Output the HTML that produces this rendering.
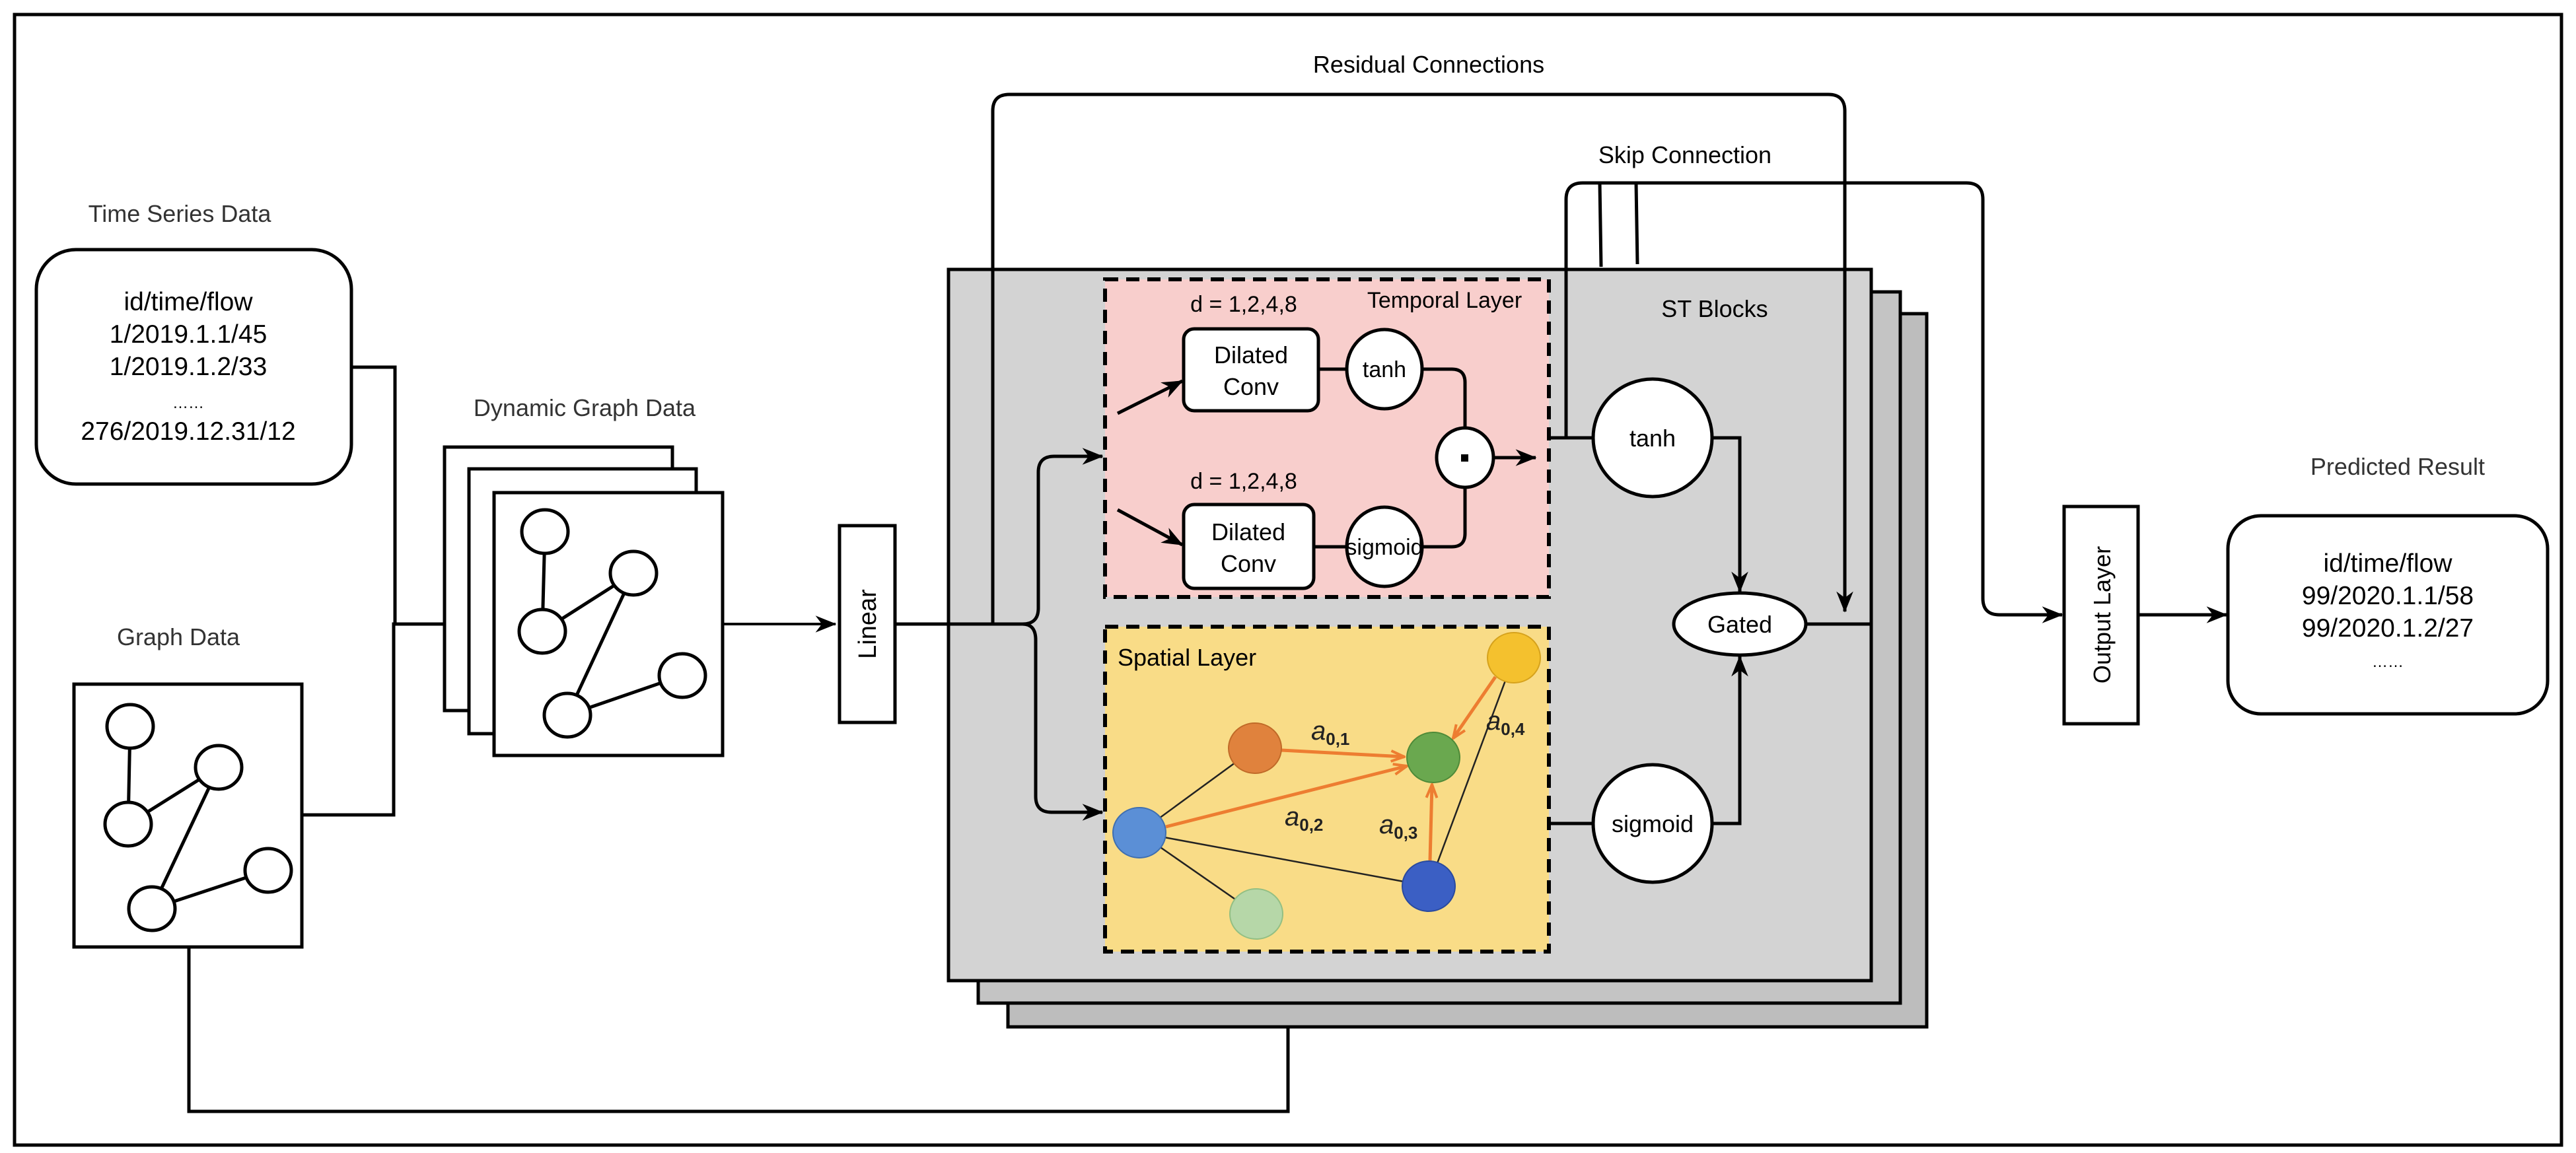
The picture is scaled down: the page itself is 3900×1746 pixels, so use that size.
<!DOCTYPE html>
<html><head><meta charset="utf-8"><style>
html,body{margin:0;padding:0;background:#fff;}
svg{display:block;}
text{font-family:"Liberation Sans",sans-serif;}
</style></head><body>
<svg width="3900" height="1746" viewBox="0 0 3900 1746" xmlns="http://www.w3.org/2000/svg">
<defs>
<marker id="ar" viewBox="0 0 20 16" refX="19" refY="8" markerWidth="32" markerHeight="26" orient="auto" markerUnits="userSpaceOnUse">
<path d="M0,0 L20,8 L0,16 L6,8 Z" fill="#000"/>
</marker>
<marker id="ao" markerWidth="24" markerHeight="20" refX="22" refY="10" orient="auto" markerUnits="userSpaceOnUse">
<path d="M2,2 L22,10 L2,18" fill="none" stroke="#ed7d31" stroke-width="4"/>
</marker>
</defs>
<rect x="22" y="22" width="3856" height="1712" fill="none" stroke="#000" stroke-width="5"/>

<!-- Time series -->
<text x="272" y="336" font-size="36" fill="#333" text-anchor="middle">Time Series Data</text>
<rect x="55" y="378" width="477" height="355" rx="60" fill="#fff" stroke="#000" stroke-width="5"/>
<g font-size="39" text-anchor="middle" fill="#000">
<text x="285" y="470">id/time/flow</text>
<text x="285" y="519">1/2019.1.1/45</text>
<text x="285" y="568">1/2019.1.2/33</text>
<text x="285" y="618" font-size="24">……</text>
<text x="285" y="666">276/2019.12.31/12</text>
</g>

<!-- Graph data -->
<text x="270" y="977" font-size="36" fill="#333" text-anchor="middle">Graph Data</text>
<rect x="112" y="1036" width="345" height="398" fill="#fff" stroke="#000" stroke-width="5"/>
<g stroke="#000" stroke-width="5" fill="#fff">
<line x1="197" y1="1100" x2="194" y2="1248"/><line x1="194" y1="1248" x2="331" y2="1162"/>
<line x1="331" y1="1162" x2="230" y2="1376"/><line x1="230" y1="1376" x2="406" y2="1318"/>
<ellipse cx="197" cy="1100" rx="35" ry="33"/><ellipse cx="331" cy="1162" rx="35" ry="33"/>
<ellipse cx="194" cy="1248" rx="35" ry="33"/><ellipse cx="230" cy="1376" rx="35" ry="33"/>
<ellipse cx="406" cy="1318" rx="35" ry="33"/>
</g>

<!-- connectors left -->
<g fill="none" stroke="#000" stroke-width="5">
<polyline points="532,556 598,556 598,945"/>
<polyline points="457,1234 596,1234 596,945 742,945" marker-end="url(#ar)"/>
<polyline points="286,1434 286,1683 1950,1683 1950,1460" marker-end="url(#ar)"/>
</g>

<!-- Dynamic graph -->
<text x="885" y="630" font-size="36" fill="#333" text-anchor="middle">Dynamic Graph Data</text>
<g stroke="#000" stroke-width="5" fill="#fff">
<rect x="673" y="677" width="345" height="399"/>
<rect x="710" y="710" width="344" height="401"/>
<rect x="748" y="746" width="346" height="398"/>
<line x1="825" y1="805" x2="821" y2="956"/><line x1="821" y1="956" x2="959" y2="868"/>
<line x1="959" y1="868" x2="859" y2="1083"/><line x1="859" y1="1083" x2="1033" y2="1023"/>
<ellipse cx="825" cy="805" rx="35" ry="33"/><ellipse cx="959" cy="868" rx="35" ry="33"/>
<ellipse cx="821" cy="956" rx="35" ry="33"/><ellipse cx="859" cy="1083" rx="35" ry="33"/>
<ellipse cx="1033" cy="1023" rx="35" ry="33"/>
</g>
<line x1="1094" y1="945" x2="1265" y2="945" stroke="#000" stroke-width="4" marker-end="url(#ar)"/>
<rect x="1271" y="796" width="84" height="298" fill="#fff" stroke="#000" stroke-width="5"/>
<text transform="translate(1326,945) rotate(-90)" font-size="38" text-anchor="middle">Linear</text>

<!-- ST blocks -->
<rect x="1526" y="475" width="1391" height="1080" fill="#bdbdbd" stroke="#000" stroke-width="5"/>
<rect x="1481" y="442" width="1396" height="1077" fill="#c4c4c4" stroke="#000" stroke-width="5"/>
<rect x="1436" y="408" width="1397" height="1077" fill="#d3d3d3" stroke="#000" stroke-width="5"/>
<text x="2596" y="480" font-size="36" text-anchor="middle">ST Blocks</text>

<!-- Residual / skip -->
<text x="2163" y="110" font-size="36" text-anchor="middle">Residual Connections</text>
<text x="2551" y="247" font-size="36" text-anchor="middle">Skip Connection</text>
<g fill="none" stroke="#000" stroke-width="5">
<path d="M1503,945 L1503,168 Q1503,143 1528,143 L2768,143 Q2793,143 2793,168 L2793,926" marker-end="url(#ar)"/>
<path d="M2371,663 L2371,302 Q2371,277 2396,277 L2977,277 Q3002,277 3002,302 L3002,906 Q3002,931 3027,931 L3122,931" marker-end="url(#ar)"/>
<line x1="2422" y1="277" x2="2424" y2="404"/>
<line x1="2477" y1="277" x2="2479" y2="400"/>
</g>

<!-- Temporal layer -->
<rect x="1673" y="423" width="672" height="481" fill="#f8cecc" stroke="#000" stroke-width="6" stroke-dasharray="20,12"/>
<text x="1883" y="472" font-size="34" text-anchor="middle">d = 1,2,4,8</text>
<text x="2187" y="466" font-size="34" text-anchor="middle">Temporal Layer</text>
<text x="1883" y="740" font-size="34" text-anchor="middle">d = 1,2,4,8</text>
<g fill="none" stroke="#000" stroke-width="5">
<path d="M2153,559 L2198,559 Q2218,559 2218,579 L2218,648"/>
<path d="M2153,828 L2198,828 Q2218,828 2218,808 L2218,738"/>
<line x1="1996" y1="559" x2="2039" y2="559"/>
<line x1="1989" y1="828" x2="2039" y2="828"/>
<line x1="2261" y1="693" x2="2325" y2="693" marker-end="url(#ar)"/>
<line x1="1692" y1="626" x2="1790" y2="577" marker-end="url(#ar)"/>
<line x1="1692" y1="772" x2="1790" y2="825" marker-end="url(#ar)"/>
</g>
<rect x="1792" y="498" width="204" height="124" rx="16" fill="#fff" stroke="#000" stroke-width="5"/>
<rect x="1792" y="764" width="197" height="127" rx="16" fill="#fff" stroke="#000" stroke-width="5"/>
<g font-size="36" text-anchor="middle">
<text x="1894" y="550">Dilated</text><text x="1894" y="598">Conv</text>
<text x="1890" y="818">Dilated</text><text x="1890" y="866">Conv</text>
</g>
<ellipse cx="2096" cy="559" rx="57" ry="60" fill="#fff" stroke="#000" stroke-width="5"/>
<text x="2096" y="571" font-size="34" text-anchor="middle">tanh</text>
<ellipse cx="2096" cy="828" rx="57" ry="60" fill="#fff" stroke="#000" stroke-width="5"/>
<text x="2096" y="840" font-size="34" text-anchor="middle">sigmoid</text>
<ellipse cx="2218" cy="693" rx="43" ry="45" fill="#fff" stroke="#000" stroke-width="5"/>
<rect x="2212" y="688" width="11" height="11" fill="#000"/>

<!-- input branching -->
<g fill="none" stroke="#000" stroke-width="5">
<path d="M1355,945 L1548,945 Q1572,945 1572,921 L1572,715 Q1572,691 1596,691 L1669,691" marker-end="url(#ar)"/>
<path d="M1548,945 Q1568,945 1568,969 L1568,1206 Q1568,1230 1592,1230 L1669,1230" marker-end="url(#ar)"/>
</g>

<!-- Spatial layer -->
<rect x="1673" y="949" width="672" height="492" fill="#f9dc87" stroke="#000" stroke-width="6" stroke-dasharray="20,12"/>
<text x="1692" y="1008" font-size="36">Spatial Layer</text>
<g stroke="#222" stroke-width="2.5">
<line x1="1725" y1="1261" x2="1900" y2="1133"/>
<line x1="1725" y1="1261" x2="1902" y2="1384"/>
<line x1="1725" y1="1261" x2="2163" y2="1342"/>
<line x1="2163" y1="1342" x2="2292" y2="996"/>
</g>
<g stroke="#ed7d31" stroke-width="5" fill="none">
<line x1="1940" y1="1136" x2="2126" y2="1146" marker-end="url(#ao)"/>
<line x1="1765" y1="1252" x2="2130" y2="1160" marker-end="url(#ao)"/>
<line x1="2165" y1="1303" x2="2168" y2="1188" marker-end="url(#ao)"/>
<line x1="2264" y1="1025" x2="2200" y2="1118" marker-end="url(#ao)"/>
</g>
<g stroke-width="2">
<ellipse cx="2292" cy="996" rx="40" ry="38" fill="#f4c12e" stroke="#d6a21c"/>
<ellipse cx="1900" cy="1133" rx="40" ry="38" fill="#e0823d" stroke="#c06a28"/>
<ellipse cx="2170" cy="1147" rx="40" ry="38" fill="#6aa84f" stroke="#4e8a38"/>
<ellipse cx="1725" cy="1261" rx="40" ry="38" fill="#5b8fd6" stroke="#3f6fb0"/>
<ellipse cx="1902" cy="1384" rx="40" ry="38" fill="#b6d7a8" stroke="#93bf83"/>
<ellipse cx="2163" cy="1342" rx="40" ry="38" fill="#3b5fc4" stroke="#2a4a9e"/>
</g>
<g font-family="Liberation Serif,serif" font-style="italic" font-size="40" fill="#222">
<text x="1985" y="1120">a<tspan font-size="26" font-style="normal" font-weight="bold" dy="8">0,1</tspan></text>
<text x="1945" y="1250">a<tspan font-size="26" font-style="normal" font-weight="bold" dy="8">0,2</tspan></text>
<text x="2088" y="1262">a<tspan font-size="26" font-style="normal" font-weight="bold" dy="8">0,3</tspan></text>
<text x="2250" y="1105">a<tspan font-size="26" font-style="normal" font-weight="bold" dy="8">0,4</tspan></text>
</g>

<!-- right side of ST -->
<g fill="none" stroke="#000" stroke-width="5">
<line x1="2345" y1="663" x2="2412" y2="663"/>
<polyline points="2592,663 2634,663 2634,896" marker-end="url(#ar)"/>
<line x1="2345" y1="1247" x2="2412" y2="1247"/>
<polyline points="2592,1247 2634,1247 2634,994" marker-end="url(#ar)"/>
<line x1="2734" y1="945" x2="2833" y2="945"/>
</g>
<ellipse cx="2502" cy="663" rx="90" ry="89" fill="#fff" stroke="#000" stroke-width="5"/>
<text x="2502" y="676" font-size="36" text-anchor="middle">tanh</text>
<ellipse cx="2502" cy="1247" rx="90" ry="89" fill="#fff" stroke="#000" stroke-width="5"/>
<text x="2502" y="1260" font-size="36" text-anchor="middle">sigmoid</text>
<ellipse cx="2634" cy="945" rx="100" ry="47" fill="#fff" stroke="#000" stroke-width="5"/>
<text x="2634" y="958" font-size="36" text-anchor="middle">Gated</text>

<!-- Output -->
<rect x="3125" y="767" width="112" height="329" fill="#fff" stroke="#000" stroke-width="5"/>
<text transform="translate(3195,931) rotate(-90)" font-size="36" text-anchor="middle">Output Layer</text>
<line x1="3237" y1="931" x2="3371" y2="931" stroke="#000" stroke-width="5" marker-end="url(#ar)"/>
<text x="3630" y="719" font-size="36" fill="#333" text-anchor="middle">Predicted Result</text>
<rect x="3373" y="781" width="484" height="300" rx="50" fill="#fff" stroke="#000" stroke-width="5"/>
<g font-size="39" text-anchor="middle">
<text x="3615" y="866">id/time/flow</text>
<text x="3615" y="915">99/2020.1.1/58</text>
<text x="3615" y="964">99/2020.1.2/27</text>
<text x="3615" y="1010" font-size="24">……</text>
</g>
</svg>
</body></html>
